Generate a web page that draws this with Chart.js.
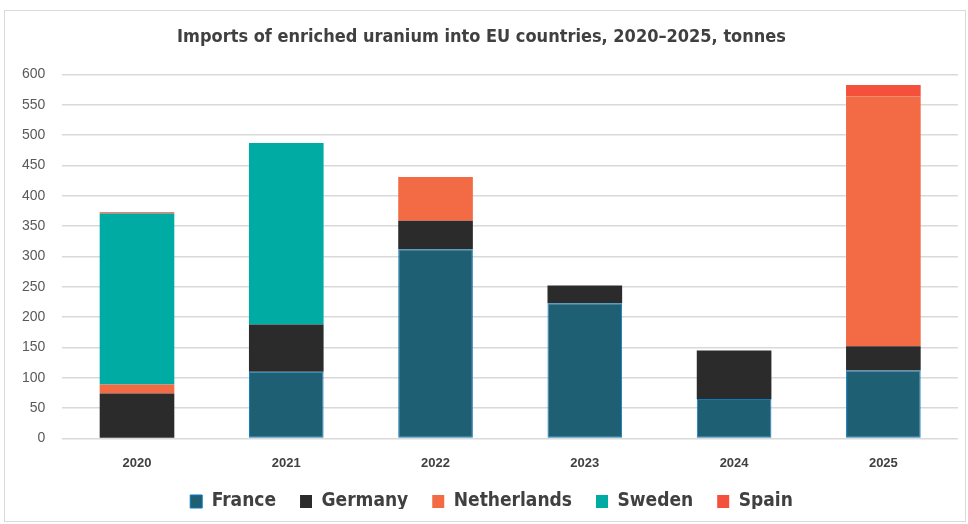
<!DOCTYPE html>
<html>
<head>
<meta charset="utf-8">
<script src="https://cdn.jsdelivr.net/npm/chart.js@4"></script>
<style>
  html, body { margin: 0; padding: 0; background: #fff; }
  #frame {
    position: absolute; left: 4px; top: 10px;
    width: 962px; height: 512px;
    border: 1px solid #d9d9d9; box-sizing: border-box;
  }
  #chartBox { position: absolute; left: 0; top: 0; width: 960px; height: 510px; }
</style>
</head>
<body>
<div id="frame"><div id="chartBox"><canvas id="uraniumChart"></canvas></div></div>
<script>
// Данные графика
const years = ['2020', '2021', '2022', '2023', '2024', '2025'];
const france = [0, 110, 312, 223, 65, 112];
const germany = [74, 78, 47, 29, 80, 40];
const netherlands = [15, 0, 72, 0, 0, 412];
const sweden = [282, 299, 0, 0, 0, 0];
const spain = [2, 0, 0, 0, 0, 19];
const yTicks = [0, 50, 100, 150, 200, 250, 300, 350, 400, 450, 500, 550, 600];

const narrow = "'Liberation Sans Narrow', 'DejaVu Sans Condensed', Roboto, sans-serif";
const legendPad = 24;

function series(label, data, color, border) {
    return {
        label: label,
        data: data,
        backgroundColor: color,
        borderColor: border || color,
        borderWidth: border ? 1 : 0,
        borderSkipped: false,
        barPercentage: 0.5,
        categoryPercentage: 1.0
    };
}

// Легенда: широкие промежутки между элементами, но без лишней высоты
const legendFit = {
    id: 'legendFit',
    beforeInit(chart) {
        const legend = chart.legend;
        const origFit = legend.fit;
        const origDraw = legend.draw;
        legend.fit = function () {
            origFit.call(this);
            this.height -= (legendPad - 12);
        };
        legend.draw = function () {
            const c = this.ctx;
            c.save();
            c.translate(10, -(legendPad - 12));
            origDraw.call(this);
            c.restore();
        };
    }
};

const ctx = document.getElementById('uraniumChart').getContext('2d');
new Chart(ctx, {
    type: 'bar',
    data: {
        labels: years,
        datasets: [
            series('France', france, '#1f5f73', '#0a7bc0'),
            series('Germany', germany, '#2b2b2b'),
            series('Netherlands', netherlands, '#f26b45'),
            series('Sweden', sweden, '#00aba3'),
            series('Spain', spain, '#f4503c')
        ]
    },
    plugins: [legendFit],
    options: {
        responsive: true,
        maintainAspectRatio: false,
        animation: false,
        layout: { padding: { left: 0, right: 7, top: 4, bottom: 0 } },
        plugins: {
            title: {
                display: true,
                text: 'Imports of enriched uranium into EU countries, 2020–2025, tonnes',
                color: '#404040',
                font: { family: narrow, size: 18, weight: '600' },
                padding: { top: 12, bottom: 26 }
            },
            legend: {
                position: 'bottom',
                labels: {
                    color: '#404040',
                    font: { family: narrow, size: 19, weight: '600' },
                    boxWidth: 12,
                    boxHeight: 13,
                    padding: legendPad,
                    generateLabels: chart => chart.data.datasets.map((ds, i) => ({
                        text: ds.label,
                        fillStyle: ds.backgroundColor,
                        strokeStyle: ds.borderColor,
                        lineWidth: ds.borderWidth,
                        fontColor: '#404040',
                        datasetIndex: i
                    }))
                }
            },
            tooltip: { enabled: false }
        },
        scales: {
            x: {
                stacked: true,
                grid: { display: false },
                border: { display: false },
                ticks: {
                    color: '#404040',
                    font: { family: "'Liberation Sans', Arial, sans-serif", size: 13, weight: 'bold' },
                    padding: 9
                }
            },
            y: {
                stacked: true,
                min: 0,
                max: 600,
                afterBuildTicks: axis => { axis.ticks = yTicks.map(v => ({ value: v })); },
                grid: { color: '#d9d9d9', lineWidth: 1.5, drawTicks: false },
                border: { display: false },
                ticks: {
                    color: '#595959',
                    font: { family: "'Liberation Sans', Arial, sans-serif", size: 14 },
                    padding: 17
                }
            }
        }
    }
});
</script>
</body>
</html>
